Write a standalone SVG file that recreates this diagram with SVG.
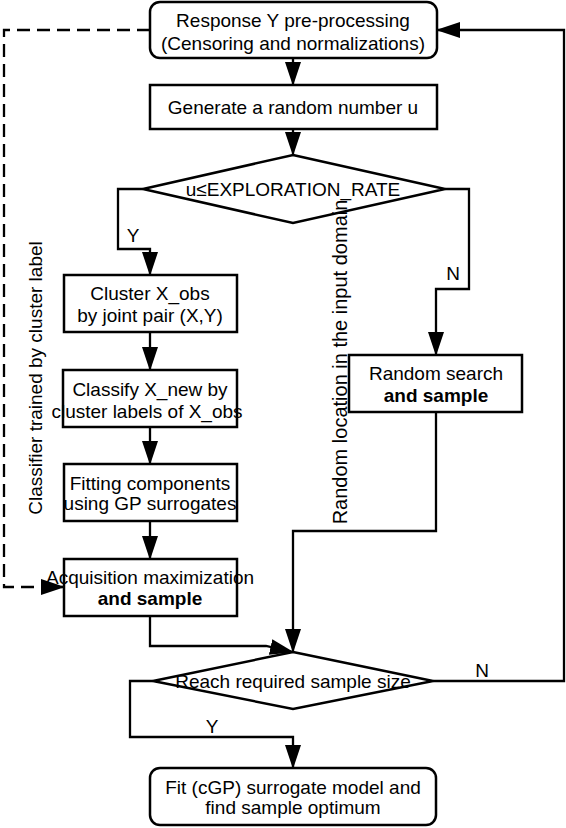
<svg xmlns="http://www.w3.org/2000/svg" width="566" height="828" viewBox="0 0 566 828">
<defs>
<marker id="ah" viewBox="0 0 24 16" markerWidth="24" markerHeight="16" refX="23" refY="8" orient="auto" markerUnits="userSpaceOnUse">
<path d="M0,0 L24,8 L0,16 z" fill="#000"/>
</marker>
<style>
.c{fill:none;stroke:#000;stroke-width:2.3}
.d{stroke-dasharray:13 7}
.n{fill:#fff;stroke:#000;stroke-width:2.5}
text{font-family:"Liberation Sans",Arial,sans-serif;font-size:19px;fill:#000}
.m{text-anchor:middle}
.b{font-weight:bold}
</style>
</defs>
<rect width="566" height="828" fill="#fff"/>
<g id="connectors">
<path class="c" d="M293,58 V85" marker-end="url(#ah)"/>
<path class="c" d="M293,129 V155" marker-end="url(#ah)"/>
<path class="c" d="M143,189 H118 V249 H150 V275" marker-end="url(#ah)"/>
<path class="c" d="M445,189 H469 V289 H436 V355" marker-end="url(#ah)"/>
<path class="c" d="M150,332 V370" marker-end="url(#ah)"/>
<path class="c" d="M150,427 V464" marker-end="url(#ah)"/>
<path class="c" d="M150,521 V559" marker-end="url(#ah)"/>
<path class="c" d="M436,412 V531 H293 V652" marker-end="url(#ah)"/>
<path class="c" d="M150,616 V646 H266 L293,652" marker-end="url(#ah)"/>
<path class="c" d="M153,681 H130 V737 H293 V768" marker-end="url(#ah)"/>
<path class="c" d="M433,681 H564 V30 H437" marker-end="url(#ah)"/>
<path class="c d" d="M150,30 H4 V587 H64" marker-end="url(#ah)"/>
</g>
<g id="n1">
<rect class="n" x="150" y="2" width="287" height="56" rx="10"/>
<text x="293" y="27" class="m">Response Y pre-processing</text>
<text x="293" y="50" class="m">(Censoring and normalizations)</text>
</g>
<g id="n2">
<rect class="n" x="150" y="85" width="287" height="44"/>
<text x="293" y="114" class="m">Generate a random number u</text>
</g>
<g id="d1">
<polygon class="n" points="293,155 445,189 293,223 143,189"/>
<text x="293" y="196" class="m">u≤EXPLORATION_RATE</text>
</g>
<g id="n3">
<rect class="n" x="64" y="275" width="173" height="57"/>
<text x="150" y="300" class="m">Cluster X_obs</text>
<text x="150" y="322" class="m">by joint pair (X,Y)</text>
</g>
<g id="n4">
<rect class="n" x="63" y="370" width="174" height="57"/>
<text x="150" y="396" class="m">Classify X_new by</text>
<text x="147" y="418" class="m">cluster labels of X_obs</text>
</g>
<g id="n5">
<rect class="n" x="64" y="464" width="173" height="57"/>
<text x="150" y="490" class="m">Fitting components</text>
<text x="150" y="510" class="m">using GP surrogates</text>
</g>
<g id="n6">
<rect class="n" x="64" y="559" width="173" height="57"/>
<text x="150" y="584" class="m">Acquisition maximization</text>
<text x="150" y="605" class="m b">and sample</text>
</g>
<g id="n7">
<rect class="n" x="349" y="355" width="173" height="57"/>
<text x="436" y="380" class="m">Random search</text>
<text x="436" y="402" class="m b">and sample</text>
</g>
<g id="d2">
<polygon class="n" points="293,652 433,681 293,709 153,681"/>
<text x="293" y="688" class="m">Reach required sample size</text>
</g>
<g id="n8">
<rect class="n" x="150" y="768" width="286" height="57" rx="10"/>
<text x="293" y="794" class="m">Fit (cGP) surrogate model and</text>
<text x="293" y="814" class="m">find sample optimum</text>
</g>
<g id="labels">
<text x="133" y="242" class="m">Y</text>
<text x="453" y="280" class="m">N</text>
<text x="482" y="677" class="m">N</text>
<text x="212" y="733" class="m">Y</text>
<text x="42" y="378" class="m" transform="rotate(-90 42 378)">Classifier trained by cluster label</text>
<text x="347" y="362" class="m" style="font-size:20px" transform="rotate(-90 347 362)">Random location in the input domain</text>
</g>
</svg>
